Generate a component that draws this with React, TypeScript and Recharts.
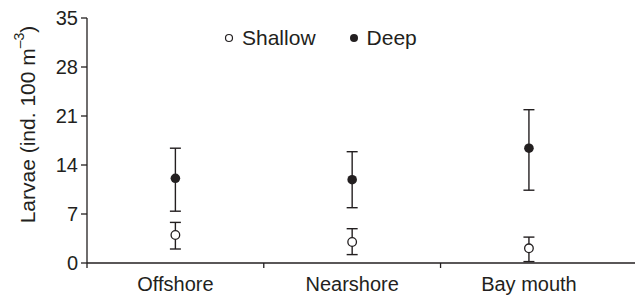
import React from 'react';
import { ComposedChart, Scatter, ErrorBar, XAxis, YAxis, Legend } from 'recharts';

const categories = ['Offshore', 'Nearshore', 'Bay mouth'];
const categoryPos = [0.5, 1.5, 2.5];
const yTicks = [0, 7, 14, 21, 28, 35];

const shallowMean = [4.0, 3.0, 2.1];
const shallowLow = [2.0, 1.2, 0.2];
const shallowHigh = [5.8, 4.9, 3.7];

const deepMean = [12.1, 11.9, 16.4];
const deepLow = [7.4, 7.9, 10.4];
const deepHigh = [16.4, 15.9, 21.9];

const build = (mean: number[], low: number[], high: number[]) =>
  mean.map((m, i) => ({ x: categoryPos[i], y: m, err: [m - low[i], high[i] - m] }));

const shallowData = build(shallowMean, shallowLow, shallowHigh);
const deepData = build(deepMean, deepLow, deepHigh);

const W = 635;
const H = 298;
const Y_AXIS_W = 87;
const X_MAX = 3.1;
const HALF_BAND = (W - Y_AXIS_W) / X_MAX / 2;
const FONT = '"Liberation Sans", Arial, Helvetica, sans-serif';
const INK = '#231f20';

const CategoryTick = (props: any) => {
  const { x, y, payload } = props;
  return (
    <text x={x + HALF_BAND} y={y} dy="0.85em" textAnchor="middle" fill={INK} fontSize={20} fontFamily={FONT}>
      {categories[payload.value]}
    </text>
  );
};

const YLabel = (props: any) => {
  const vb = props.viewBox || { x: 0, y: 0, width: 0, height: 0 };
  const cx = 27;
  const cy = vb.y + vb.height / 2 - 16;
  return (
    <text
      x={cx}
      y={cy}
      transform={`rotate(-90, ${cx}, ${cy})`}
      textAnchor="middle"
      dominantBaseline="central"
      fill={INK}
      fontSize={21}
      fontFamily={FONT}
    >
      Larvae (ind. 100 m
      <tspan dy={-8} fontSize={14}>–3</tspan>
      <tspan dy={8}>)</tspan>
    </text>
  );
};

const LegendContent = () => (
  <div style={{ display: 'flex', alignItems: 'center', fontFamily: FONT, fontSize: 21, color: INK }}>
    <svg width={10} height={10} style={{ marginRight: 8 }}>
      <circle cx={5} cy={5} r={3.5} fill="#fff" stroke={INK} strokeWidth={1.2} />
    </svg>
    <span style={{ marginRight: 33 }}>Shallow</span>
    <svg width={10} height={10} style={{ marginRight: 8 }}>
      <circle cx={5} cy={5} r={4} fill={INK} />
    </svg>
    <span>Deep</span>
  </div>
);

const OpenDot = (props: any) => (
  <circle cx={props.cx} cy={props.cy} r={4.3} fill="#fff" stroke={INK} strokeWidth={1.3} />
);
const FilledDot = (props: any) => <circle cx={props.cx} cy={props.cy} r={4.8} fill={INK} />;

export default function App() {
  return (
    <div style={{ position: 'absolute', left: 0, top: 0, width: W, height: H, background: '#fff' }}>
      <ComposedChart width={W} height={H} margin={{ top: 18, right: 0, bottom: 0, left: 0 }}>
        <XAxis
          type="number"
          dataKey="x"
          domain={[0, X_MAX]}
          ticks={[0, 1, 2]}
          allowDataOverflow
          height={35}
          tickSize={5}
          tickMargin={6}
          stroke={INK}
          strokeWidth={1.3}
          tick={<CategoryTick />}
        />
        <YAxis
          type="number"
          domain={[0, 35]}
          ticks={yTicks}
          width={Y_AXIS_W}
          tickSize={6}
          tickMargin={3}
          stroke={INK}
          strokeWidth={1.3}
          tick={{ fill: INK, fontSize: 20, fontFamily: FONT }}
          label={<YLabel />}
        />
        <Legend
          layout="horizontal"
          verticalAlign="middle"
          align="center"
          wrapperStyle={{ top: 26, left: 224, width: 'auto', height: 24 }}
          content={<LegendContent />}
        />
        <Scatter name="Shallow" data={shallowData} dataKey="y" shape={<OpenDot />} isAnimationActive={false}>
          <ErrorBar dataKey="err" direction="y" width={5.5} stroke={INK} strokeWidth={1.4} />
        </Scatter>
        <Scatter name="Deep" data={deepData} dataKey="y" shape={<FilledDot />} isAnimationActive={false}>
          <ErrorBar dataKey="err" direction="y" width={5.5} stroke={INK} strokeWidth={1.4} />
        </Scatter>
      </ComposedChart>
    </div>
  );
}
